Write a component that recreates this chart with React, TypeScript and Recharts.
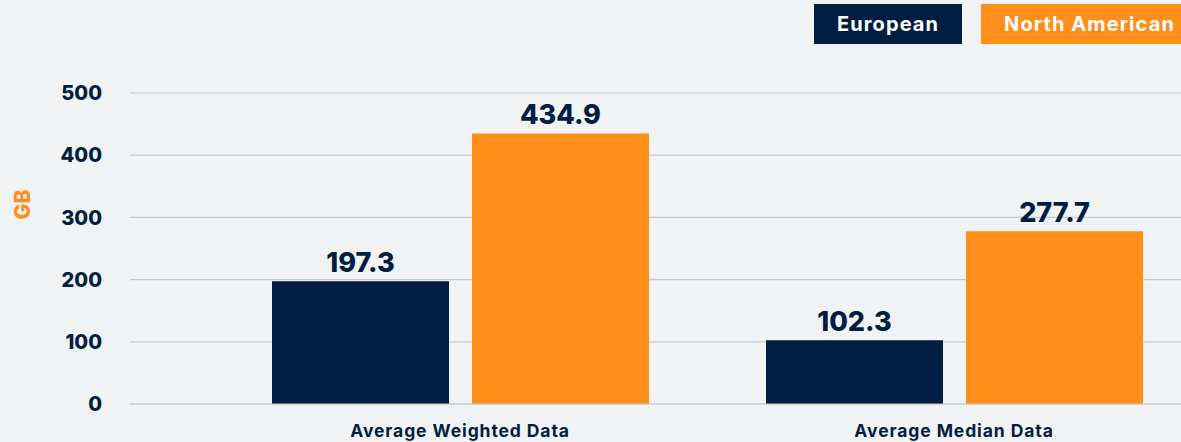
import React from 'react';
import { BarChart, Bar, XAxis, YAxis, CartesianGrid, Legend, LabelList } from 'recharts';

const categories = ['Average Weighted Data', 'Average Median Data'];
const europeanValues = [197.3, 102.3];
const northAmericanValues = [434.9, 277.7];
const yTicks = [0, 100, 200, 300, 400, 500];

const NAVY = '#001e41';
const ORANGE = '#fe8f1a';
const BG = '#f1f2f4';
const FONT = 'Inter, "Open Sans", sans-serif';

const data = categories.map((name, i) => ({
  name,
  european: europeanValues[i],
  northAmerican: northAmericanValues[i],
}));

const LegendContent = (props: any) => {
  const { payload } = props;
  return (
    <div style={{ display: 'flex', gap: 19, fontFamily: FONT }}>
      {(payload || []).map((p: any) => (
        <div
          key={p.value}
          style={{
            background: p.color,
            color: '#ffffff',
            height: 40,
            lineHeight: '40px',
            padding: '0 23px',
            fontSize: 20,
            fontWeight: 700,
            letterSpacing: '1.1px',
            whiteSpace: 'nowrap',
          }}
        >
          {p.value}
        </div>
      ))}
    </div>
  );
};

const GbLabel = (props: any) => {
  const vb = props.viewBox || {};
  const cx = 22;
  const cy = vb.y + vb.height / 2 - 44;
  return (
    <text
      x={cx}
      y={cy}
      transform={`rotate(-90 ${cx} ${cy})`}
      textAnchor="middle"
      dominantBaseline="central"
      fill={ORANGE}
      fontSize={21}
      fontWeight={800}
      fontFamily={FONT}
    >
      GB
    </text>
  );
};

export default function App() {
  return (
    <div
      style={{
        position: 'absolute',
        left: 0,
        top: 0,
        width: 1181,
        height: 442,
        overflow: 'hidden',
        background: BG,
      }}
    >
      <BarChart
        width={1201}
        height={442}
        data={data}
        margin={{ top: 53, right: 0, bottom: 0, left: 0 }}
        barSize={177}
        barGap={23}
        style={{ fontFamily: FONT }}
      >
        <CartesianGrid vertical={false} stroke="#c8c9cc" strokeWidth={1.2} />
        <XAxis
          dataKey="name"
          height={38}
          padding={{ left: 83, right: 0 }}
          tickLine={false}
          axisLine={{ stroke: '#c8c9cc', strokeWidth: 1.2 }}
          tickMargin={15}
          tick={{ fill: NAVY, fontSize: 17.5, fontWeight: 700, fontFamily: FONT, letterSpacing: 0.9 }}
          interval={0}
        />
        <YAxis
          width={130}
          domain={[0, 500]}
          ticks={yTicks}
          tickLine={false}
          axisLine={false}
          tickSize={6}
          tickMargin={22}
          tick={{ fill: NAVY, fontSize: 20, fontWeight: 800, fontFamily: FONT }}
          label={<GbLabel />}
        />
        <Legend
          verticalAlign="top"
          align="right"
          content={<LegendContent />}
          wrapperStyle={{ top: 4, left: 814, right: 'auto', width: 420 }}
        />
        <Bar dataKey="european" name="European" fill={NAVY} isAnimationActive={false}>
          <LabelList
            dataKey="european"
            position="top"
            offset={9}
            fill={NAVY}
            fontSize={27}
            fontWeight={800}
            fontFamily={FONT}
          />
        </Bar>
        <Bar dataKey="northAmerican" name="North American" fill={ORANGE} isAnimationActive={false}>
          <LabelList
            dataKey="northAmerican"
            position="top"
            offset={9}
            fill={NAVY}
            fontSize={27}
            fontWeight={800}
            fontFamily={FONT}
          />
        </Bar>
      </BarChart>
    </div>
  );
}
